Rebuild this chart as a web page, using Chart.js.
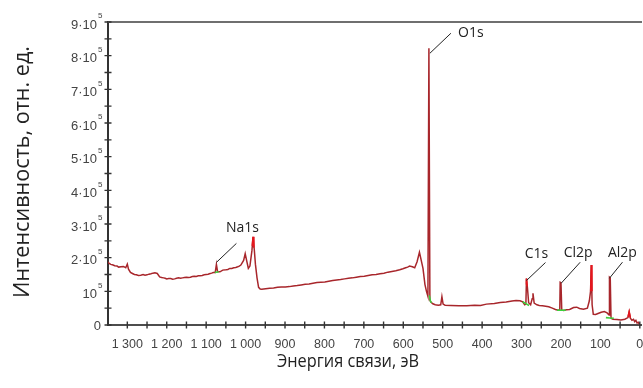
<!DOCTYPE html>
<html>
<head>
<meta charset="utf-8">
<script src="https://cdn.jsdelivr.net/npm/chart.js@4.4.1/dist/chart.umd.min.js"></script>
<style>
  html, body { margin: 0; padding: 0; background: #fff; }
  #wrap { width: 643px; height: 388px; }
</style>
</head>
<body>
<div id="wrap"><canvas id="xps" width="643" height="388"></canvas></div>
<script>
// survey spectrum: binding energy, eV
const energy = [
  1350, 1346, 1342, 1336, 1332, 1326, 1322, 1316, 1310, 1304, 1300, 1297, 1292, 1287, 1282, 1277,
  1272, 1266, 1260, 1255, 1250, 1245, 1240, 1235, 1230, 1224, 1218, 1213, 1208, 1204, 1200, 1195,
  1190, 1185, 1180, 1175, 1170, 1165, 1160, 1155, 1150, 1145, 1140, 1135, 1130, 1125, 1120, 1115,
  1110, 1105, 1100, 1095, 1090, 1086, 1082, 1077, 1074, 1071, 1065, 1058, 1050, 1045, 1040, 1035,
  1030, 1025, 1020, 1016, 1012, 1005,
  1001, 997, 993, 989, 984, 981, 978, 975, 971, 967, 963, 959, 949, 939, 929, 919, 909, 899, 889, 879,
  869, 859, 849, 839, 829, 819, 809, 799, 789, 779, 769, 759, 749, 739, 729, 719, 709, 699, 689, 679,
  669, 659, 649, 639, 629, 619, 609, 601, 594, 589, 584,
  577, 571, 565, 559, 555, 550, 545, 541, 537.5, 535, 532.5, 530, 525, 519, 511, 505,
  502, 499, 494, 479, 459, 439, 419, 404, 389, 369, 354, 339, 324, 314, 304, 297,
  292, 289, 287.5, 285, 282, 277, 273, 271, 268, 261, 255, 247, 239, 231, 222, 214,
  207, 203, 202, 200, 198, 193, 186, 178, 168, 160, 153, 143, 133, 128, 125, 123,
  121, 118, 112, 106, 98, 90, 83, 78, 77, 75, 73, 68, 58, 48, 38, 30,
  27, 24, 20, 16, 13, 10, 7, 4, 1
];
// intensity, counts
const intensity = [
  188000, 183000, 180000, 178000, 176000, 175000, 172000, 173000, 174000, 170000, 181000, 166000, 156000, 153000, 150000, 149000,
  147000, 148000, 150000, 148000, 149000, 151000, 152000, 154000, 155000, 153000, 143000, 141000, 140000, 139000, 137000, 138000,
  138000, 136000, 137000, 139000, 140000, 139000, 140000, 141000, 142000, 141000, 142000, 144000, 145000, 144000, 146000, 146000,
  147000, 149000, 150000, 151000, 153000, 154000, 156000, 156000, 180000, 158000, 158000, 163000, 164000, 165000, 168000, 168000,
  170000, 171000, 173000, 175000, 178000, 192000,
  212000, 190000, 168000, 175000, 220000, 262000, 225000, 180000, 140000, 112000, 107000, 106000, 108000, 109000, 110000, 112000, 113000, 113000, 114000, 116000,
  117000, 119000, 121000, 122000, 124000, 126000, 127000, 128000, 130000, 132000, 134000, 135000, 137000, 139000, 140000, 142000, 144000, 145000, 147000, 149000,
  150000, 152000, 154000, 157000, 159000, 161000, 164000, 167000, 170000, 172000, 175000,
  173000, 170000, 188000, 216000, 195000, 168000, 120000, 99000, 85000, 822000, 74000, 68000, 63000, 60000, 59000, 60000,
  84000, 62000, 59000, 58000, 57000, 57000, 59000, 58000, 62000, 64000, 67000, 68000, 71000, 73000, 72000, 69000,
  60000, 62000, 138000, 110000, 66000, 60000, 78000, 94000, 65000, 60000, 58000, 57000, 56000, 54000, 50000, 46000,
  44000, 45000, 127000, 126000, 44000, 43000, 45000, 46000, 52000, 53000, 49000, 47000, 50000, 72000, 100000, 178000,
  60000, 32000, 31000, 34000, 38000, 40000, 36000, 30000, 142000, 140000, 20000, 17000, 16000, 15000, 17000, 22000,
  39000, 20000, 14000, 17000, 10000, 14000, 6000, 8000, 2000
];

// background fit segments under the labelled peaks
const fitEnergy = [[1078, 1068], [534, 531, 528], [297, 287, 281], [210, 200, 188], [86, 76, 66]];
const fitIntensity = [[156000, 158000], [88000, 70000, 66000], [69000, 62000, 58000], [44000, 44000, 44000], [22000, 21000, 20000]];

// highlighted peak tops
const topEnergy = [[983, 981, 979], [288.5, 287.5, 286], [124.5, 123, 121.5], [30, 27, 24]];
const topIntensity = [[235000, 262000, 230000], [120000, 138000, 115000], [100000, 178000, 100000], [24000, 39000, 22000]];

const xTickValues = [0, 100, 200, 300, 400, 500, 600, 700, 800, 900, 1000, 1100, 1200, 1300];
const yTickValues = [0, 100000, 200000, 300000, 400000, 500000, 600000, 700000, 800000, 900000];

const peakNames = ['Na1s', 'O1s', 'C1s', 'Cl2p', 'Al2p'];
const peakEnergy = [1074, 535, 287.5, 202, 77];

// leader line start/end and text centre, offsets from the peak point
const peakLabelLayout = [
  { sx: 0, sy: -2, ex: 20, ey: -21, tx: 26, ty: -36 },
  { sx: 1, sy: 5, ex: 22, ey: -15, tx: 42, ty: -15 },
  { sx: 0, sy: 2, ex: 19, ey: -16, tx: 10, ty: -25 },
  { sx: 1, sy: 1, ex: 20, ey: -20, tx: 18, ty: -29 },
  { sx: 0, sy: 1, ex: 13, ey: -15, tx: 13, ty: -24 }
];

const LINE_RED = '#a8262b';
const TOP_RED = '#e5161d';
const FIT_GREEN = '#3ccf3c';

const toPoints = (xs, ys) => xs.map((x, i) => ({ x: x, y: ys[i] }));

const overlaySets = [];
fitEnergy.forEach((seg, i) => overlaySets.push({
  data: toPoints(seg, fitIntensity[i]),
  borderColor: FIT_GREEN, borderWidth: 1.6, pointRadius: 0, tension: 0
}));
topEnergy.forEach((seg, i) => overlaySets.push({
  data: toPoints(seg, topIntensity[i]),
  borderColor: TOP_RED, borderWidth: 1.6, pointRadius: 0, tension: 0
}));

function intensityAt(e) {
  const i = energy.indexOf(e);
  return intensity[i];
}

function fmtEnergy(v) {
  if (v < 1000) return String(v);
  return Math.floor(v / 1000) + ' ' + String(v % 1000).padStart(3, '0');
}

const decorPlugin = {
  id: 'decor',
  afterDraw(chart) {
    const ctx = chart.ctx;
    const xs = chart.scales.x;
    const ys = chart.scales.y;
    const area = chart.chartArea;
    ctx.save();

    // top frame line
    ctx.strokeStyle = '#6f6f6f';
    ctx.lineWidth = 2;
    ctx.beginPath();
    ctx.moveTo(area.left, area.top);
    ctx.lineTo(area.right + 1, area.top);
    ctx.stroke();

    // tick marks crossing the axes
    ctx.strokeStyle = '#333';
    ctx.lineWidth = 1.4;
    ctx.beginPath();
    for (let v = 0; v <= 900000; v += 50000) {
      const y = ys.getPixelForValue(v);
      ctx.moveTo(area.left - 3.5, y);
      ctx.lineTo(area.left + 3.5, y);
    }
    for (let v = 0; v <= 1300; v += 50) {
      const x = xs.getPixelForValue(v);
      ctx.moveTo(x, area.bottom - 3.5);
      ctx.lineTo(x, area.bottom + 3.5);
    }
    ctx.stroke();

    // y tick labels, k·10^5
    ctx.fillStyle = '#444';
    ctx.textBaseline = 'middle';
    yTickValues.forEach((v) => {
      const y = ys.getPixelForValue(v);
      const k = Math.round(v / 100000);
      if (k === 0) {
        ctx.font = '13px "Liberation Sans", Arial, sans-serif';
        ctx.textAlign = 'right';
        ctx.fillText('0', area.left - 7, y + 1);
        return;
      }
      const base = k === 1 ? '10' : k + '\u00b710';
      ctx.font = '13px "Liberation Sans", Arial, sans-serif';
      ctx.textAlign = 'right';
      ctx.fillText(base, area.left - 11, y + 3);
      ctx.font = '8px "Liberation Sans", Arial, sans-serif';
      ctx.textAlign = 'left';
      ctx.fillText('5', area.left - 10, y - 6);
    });

    // x tick labels
    ctx.font = '12.5px "Liberation Sans", Arial, sans-serif';
    ctx.textAlign = 'center';
    xTickValues.forEach((v) => {
      ctx.fillText(fmtEnergy(v), xs.getPixelForValue(v), area.bottom + 20);
    });

    // axis titles
    ctx.fillStyle = '#222';
    ctx.font = '19px "Open Sans", sans-serif';
    ctx.textAlign = 'center';
    ctx.fillText('Энергия связи, эВ', 348, 362, 142);
    ctx.save();
    ctx.translate(23, 172);
    ctx.rotate(-Math.PI / 2);
    ctx.font = '22px "Open Sans", sans-serif';
    ctx.fillText('Интенсивность, отн. ед.', 0, 0, 252);
    ctx.restore();

    // peak labels with leader lines
    ctx.font = '14px "Open Sans", sans-serif';
    ctx.strokeStyle = '#222';
    ctx.lineWidth = 1;
    peakNames.forEach((name, i) => {
      const px = xs.getPixelForValue(peakEnergy[i]);
      const py = ys.getPixelForValue(intensityAt(peakEnergy[i]));
      const l = peakLabelLayout[i];
      ctx.beginPath();
      ctx.moveTo(px + l.sx, py + l.sy);
      ctx.lineTo(px + l.ex, py + l.ey);
      ctx.stroke();
      ctx.fillText(name, px + l.tx, py + l.ty);
    });

    ctx.restore();
  }
};

new Chart(document.getElementById('xps'), {
  type: 'line',
  data: {
    datasets: overlaySets.concat([{
      data: toPoints(energy, intensity),
      borderColor: LINE_RED,
      borderWidth: 1.5,
      pointRadius: 0,
      tension: 0
    }])
  },
  options: {
    responsive: false,
    devicePixelRatio: 1,
    animation: false,
    events: [],
    layout: { padding: { top: 22, right: 2, left: 0, bottom: 0 } },
    plugins: { legend: { display: false }, tooltip: { enabled: false } },
    scales: {
      x: {
        type: 'linear',
        reverse: true,
        min: -3,
        max: 1349,
        ticks: { display: false },
        grid: { display: false },
        border: { display: true, color: '#4d4d4d', width: 2 },
        afterFit(s) { s.height = 63; }
      },
      y: {
        type: 'linear',
        min: 0,
        max: 900000,
        ticks: { display: false },
        grid: { display: false },
        border: { display: true, color: '#333', width: 2 },
        afterFit(s) { s.width = 108; }
      }
    }
  },
  plugins: [decorPlugin]
});
</script>
</body>
</html>
